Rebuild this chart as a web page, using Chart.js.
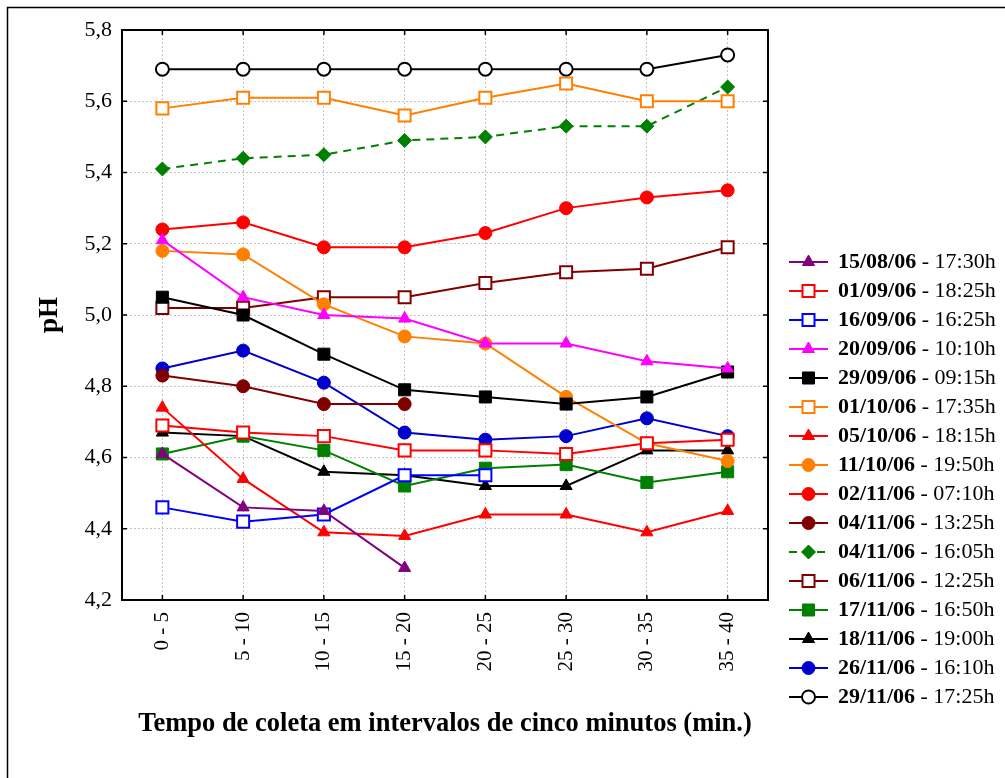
<!DOCTYPE html>
<html>
<head>
<meta charset="utf-8">
<script src="https://cdn.jsdelivr.net/npm/chart.js@4/dist/chart.umd.min.js"></script>
<style>
  html, body { margin: 0; padding: 0; background: #ffffff; }
  #wrap { width: 1005px; height: 778px; }
</style>
</head>
<body>
<div id="wrap"><canvas id="c" width="1005" height="778"></canvas></div>
<script>
// ---- categories and tick labels ----
const categories = ['0 - 5', '5 - 10', '10 - 15', '15 - 20', '20 - 25', '25 - 30', '30 - 35', '35 - 40'];
const yMin = 4.2, yMax = 5.8, yStep = 0.2;

// ---- legend labels ----
const seriesDates = ['15/08/06', '01/09/06', '16/09/06', '20/09/06', '29/09/06', '01/10/06', '05/10/06', '11/10/06',
                     '02/11/06', '04/11/06', '04/11/06', '06/11/06', '17/11/06', '18/11/06', '26/11/06', '29/11/06'];
const seriesTimes = ['17:30h', '18:25h', '16:25h', '10:10h', '09:15h', '17:35h', '18:15h', '19:50h',
                     '07:10h', '13:25h', '16:05h', '12:25h', '16:50h', '19:00h', '16:10h', '17:25h'];

// ---- series values (pH) ----
const ph_150806 = [4.61, 4.46, 4.45, 4.29];
const ph_010906 = [4.69, 4.67, 4.66, 4.62, 4.62, 4.61, 4.64, 4.65];
const ph_160906 = [4.46, 4.42, 4.44, 4.55, 4.55];
const ph_200906 = [5.21, 5.05, 5.00, 4.99, 4.92, 4.92, 4.87, 4.85];
const ph_290906 = [5.05, 5.00, 4.89, 4.79, 4.77, 4.75, 4.77, 4.84];
const ph_011006 = [5.58, 5.61, 5.61, 5.56, 5.61, 5.65, 5.60, 5.60];
const ph_051006 = [4.74, 4.54, 4.39, 4.38, 4.44, 4.44, 4.39, 4.45];
const ph_111006 = [5.18, 5.17, 5.03, 4.94, 4.92, 4.77, 4.64, 4.59];
const ph_021106 = [5.24, 5.26, 5.19, 5.19, 5.23, 5.30, 5.33, 5.35];
const ph_041106a = [4.83, 4.80, 4.75, 4.75];
const ph_041106b = [5.41, 5.44, 5.45, 5.49, 5.50, 5.53, 5.53, 5.64];
const ph_061106 = [5.02, 5.02, 5.05, 5.05, 5.09, 5.12, 5.13, 5.19];
const ph_171106 = [4.61, 4.66, 4.62, 4.52, 4.57, 4.58, 4.53, 4.56];
const ph_181106 = [4.67, 4.66, 4.56, 4.55, 4.52, 4.52, 4.62, 4.62];
const ph_261106 = [4.85, 4.90, 4.81, 4.67, 4.65, 4.66, 4.71, 4.66];
const ph_291106 = [5.69, 5.69, 5.69, 5.69, 5.69, 5.69, 5.69, 5.73];

const seriesValues = [ph_150806, ph_010906, ph_160906, ph_200906, ph_290906, ph_011006, ph_051006, ph_111006,
                      ph_021106, ph_041106a, ph_041106b, ph_061106, ph_171106, ph_181106, ph_261106, ph_291106];

// ---- styles ----
const PURPLE = '#800080', RED = '#ff0000', BLUE = '#0000ff', MAGENTA = '#ff00ff', BLACK = '#000000',
      ORANGE = '#ff8000', DARKRED = '#800000', GREEN = '#008000', DBLUE = '#0000cd';
const styles = [
  {c: PURPLE, s: 'triangle', open: false},
  {c: RED, s: 'rect', open: true},
  {c: BLUE, s: 'rect', open: true},
  {c: MAGENTA, s: 'triangle', open: false},
  {c: BLACK, s: 'rect', open: false},
  {c: ORANGE, s: 'rect', open: true},
  {c: RED, s: 'triangle', open: false},
  {c: ORANGE, s: 'circle', open: false},
  {c: RED, s: 'circle', open: false},
  {c: DARKRED, s: 'circle', open: false},
  {c: GREEN, s: 'rectRot', open: false, dash: [8, 6]},
  {c: DARKRED, s: 'rect', open: true},
  {c: GREEN, s: 'rect', open: false},
  {c: BLACK, s: 'triangle', open: false},
  {c: DBLUE, s: 'circle', open: false},
  {c: BLACK, s: 'circle', open: true}
];
function radiusFor(st) {
  if (st.s === 'rect') return 8.5;
  if (st.s === 'triangle') return 7;
  if (st.s === 'rectRot') return 7;
  return 6.5;
}

const datasets = seriesValues.map((vals, i) => {
  const st = styles[i];
  return {
    label: seriesDates[i] + ' - ' + seriesTimes[i],
    data: vals,
    borderColor: st.c,
    backgroundColor: st.open ? '#ffffff' : st.c,
    pointBackgroundColor: st.open ? '#ffffff' : st.c,
    pointBorderColor: st.c,
    pointBorderWidth: st.open ? 2 : 1,
    pointStyle: st.s,
    pointRadius: radiusFor(st),
    pointHoverRadius: radiusFor(st),
    borderWidth: 2,
    borderDash: st.dash || [],
    tension: 0,
    fill: false
  };
});

const SERIF = '"Liberation Serif", "Times New Roman", serif';

// frame + inward ticks
const framePlugin = {
  id: 'frame',
  beforeDraw(chart) {
    const ctx = chart.ctx;
    ctx.save();
    ctx.fillStyle = '#ffffff';
    ctx.fillRect(0, 0, chart.width, chart.height);
    ctx.restore();
  },
  afterDraw(chart) {
    const {ctx, chartArea: a, scales} = chart;
    ctx.save();
    ctx.strokeStyle = '#000';
    ctx.lineWidth = 2;
    ctx.strokeRect(a.left, a.top, a.right - a.left, a.bottom - a.top);
    ctx.lineWidth = 1.5;
    const tl = 5;
    ctx.beginPath();
    scales.x.ticks.forEach((t, i) => {
      const x = scales.x.getPixelForTick(i);
      ctx.moveTo(x, a.top); ctx.lineTo(x, a.top + tl);
      ctx.moveTo(x, a.bottom); ctx.lineTo(x, a.bottom - tl);
    });
    scales.y.ticks.forEach((t, i) => {
      const y = scales.y.getPixelForTick(i);
      ctx.moveTo(a.left, y); ctx.lineTo(a.left + tl, y);
      ctx.moveTo(a.right, y); ctx.lineTo(a.right - tl, y);
    });
    ctx.stroke();
    // outer frame (only left and top edges are visible in the crop)
    ctx.lineWidth = 1.5;
    ctx.beginPath();
    ctx.moveTo(7.5, chart.height);
    ctx.lineTo(7.5, 7.5);
    ctx.lineTo(chart.width, 7.5);
    ctx.stroke();
    ctx.restore();
  }
};

// custom legend (bold date + regular time)
const legendPlugin = {
  id: 'customLegend',
  afterDraw(chart) {
    const ctx = chart.ctx;
    const a = chart.chartArea;
    const x1 = a.right + 21, x2 = a.right + 60, xm = (x1 + x2) / 2, xt = a.right + 70;
    const y0 = 262, dy = 29;
    ctx.save();
    chart.data.datasets.forEach((ds, i) => {
      const y = y0 + i * dy;
      ctx.strokeStyle = ds.borderColor;
      ctx.lineWidth = ds.borderWidth;
      ctx.setLineDash(ds.borderDash || []);
      ctx.beginPath(); ctx.moveTo(x1, y); ctx.lineTo(x2, y); ctx.stroke();
      ctx.setLineDash([]);
      ctx.fillStyle = ds.pointBackgroundColor;
      ctx.strokeStyle = ds.pointBorderColor;
      ctx.lineWidth = ds.pointBorderWidth;
      Chart.helpers.drawPoint(ctx, {pointStyle: ds.pointStyle, radius: ds.pointRadius, rotation: 0, borderWidth: ds.pointBorderWidth}, xm, y);
      ctx.fillStyle = '#000';
      ctx.textBaseline = 'middle';
      ctx.textAlign = 'left';
      ctx.font = 'bold 22px ' + SERIF;
      const bold = seriesDates[i];
      ctx.fillText(bold, xt, y);
      const w = ctx.measureText(bold).width;
      ctx.font = '22px ' + SERIF;
      ctx.fillText(' - ' + seriesTimes[i], xt + w, y);
    });
    ctx.restore();
  }
};

new Chart(document.getElementById('c'), {
  type: 'line',
  data: { labels: categories, datasets: datasets },
  plugins: [framePlugin, legendPlugin],
  options: {
    responsive: false,
    animation: false,
    devicePixelRatio: 1,
    layout: { padding: { left: 0, right: 237, top: 30, bottom: 0 } },
    plugins: { legend: { display: false }, tooltip: { enabled: false } },
    scales: {
      x: {
        type: 'category',
        offset: true,
        afterFit(scale) { scale.height = 178; },
        grid: { offset: false, drawTicks: false, color: '#c4c4c4', lineWidth: 1 },
        border: { display: false, dash: [2, 2] },
        ticks: { minRotation: 90, maxRotation: 90, padding: 12, color: '#000', font: { family: SERIF, size: 21 } },
        title: { display: true, text: 'Tempo de coleta em intervalos de cinco minutos (min.)', color: '#000',
                 font: { family: SERIF, size: 26.5, weight: 'bold' }, padding: { top: 0, bottom: 38 } }
      },
      y: {
        min: yMin, max: yMax,
        afterFit(scale) { scale.width = 122; },
        grid: { drawTicks: false, color: '#c4c4c4', lineWidth: 1 },
        border: { display: false, dash: [2, 2] },
        ticks: { stepSize: yStep, padding: 10, color: '#000', font: { family: SERIF, size: 22 },
                 callback: (v) => Number(v).toFixed(1).replace('.', ',') },
        title: { display: true, text: 'pH', color: '#000', font: { family: SERIF, size: 27, weight: 'bold' },
                 padding: { top: 34, bottom: 0 } }
      }
    }
  }
});
</script>
</body>
</html>
